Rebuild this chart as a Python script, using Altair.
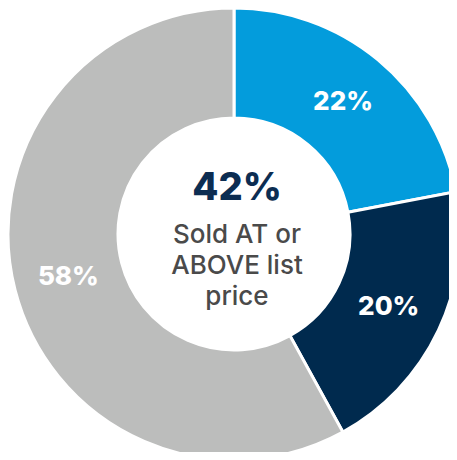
import altair as alt
import pandas as pd

categories = ["Sold ABOVE list price", "Sold AT list price", "Sold BELOW list price"]
values = [22, 20, 58]
labels = ["22%", "20%", "58%"]
colors = ["#039CDC", "#002A4E", "#BCBDBC"]
center_big = "42%"
center_lines = ["Sold AT or", "ABOVE list", "price"]

df = pd.DataFrame({"category": categories, "value": values, "label": labels, "order": [0, 1, 2]})

CX, CY = 226, 226

base = alt.Chart(df).encode(
    theta=alt.Theta("value:Q", stack=True),
    order=alt.Order("order:Q"),
    x=alt.value(CX),
    y=alt.value(CY),
)

arcs = base.mark_arc(outerRadius=226, innerRadius=116, stroke="white", strokeWidth=3).encode(
    color=alt.Color("category:N", scale=alt.Scale(domain=categories, range=colors), legend=None)
)

slice_labels = base.mark_text(radius=171, fontSize=26, fontWeight=800, font="Inter",
                              color="white", baseline="middle", align="center").encode(
    text="label:N"
)

cdf = pd.DataFrame({"big": [center_big], "body": ["\n".join(center_lines)]})

big = alt.Chart(cdf).mark_text(font="Inter", fontSize=38, fontWeight=800, color="#0C2D52",
                               baseline="alphabetic", align="center").encode(
    text="big:N", x=alt.value(CX + 3), y=alt.value(192)
)

body = alt.Chart(cdf).mark_text(font="Inter", fontSize=26, fontWeight=500, color="#4A4A4A",
                                lineBreak="\n", lineHeight=31, baseline="alphabetic",
                                align="center").encode(
    text="body:N", x=alt.value(CX + 3), y=alt.value(235)
)

chart = alt.layer(arcs, slice_labels, big, body).properties(
    width=441, height=444, padding=0, autosize=alt.AutoSizeParams(type="none")
).configure_view(strokeWidth=0)

chart.save("out.html", embed_options={"renderer": "svg", "actions": False})
